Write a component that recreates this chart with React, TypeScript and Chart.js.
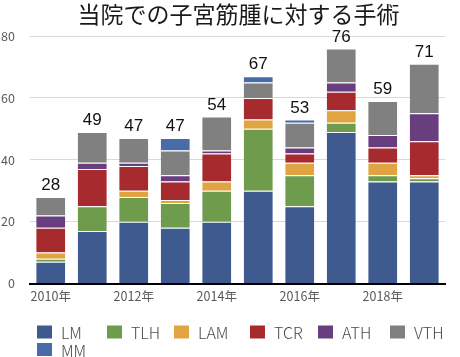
import React, { useEffect, useRef } from "react";
import { Chart, registerables } from "chart.js";

Chart.register(...registerables);

const TITLE = "当院での子宮筋腫に対する手術";
const YEARS = ["2010年", "2011年", "2012年", "2013年", "2014年", "2015年", "2016年", "2017年", "2018年", "2019年"];

const LM = [7, 17, 20, 18, 20, 30, 25, 49, 33, 33];
const TLH = [1, 8, 8, 8, 10, 20, 10, 3, 2, 1];
const LAM = [2, 0, 2, 1, 3, 3, 4, 4, 4, 1];
const TCR = [8, 12, 8, 6, 9, 7, 3, 6, 5, 11];
const ATH = [4, 2, 1, 2, 1, 0, 2, 3, 4, 9];
const VTH = [6, 10, 8, 8, 11, 5, 8, 11, 11, 16];
const MM = [0, 0, 0, 4, 0, 2, 1, 0, 0, 0];

const Y_TICKS = [0, 20, 40, 60, 80];

const SERIES = [
  { label: "LM", data: LM, color: "#3e5a8e" },
  { label: "TLH", data: TLH, color: "#6f9b4d" },
  { label: "LAM", data: LAM, color: "#e0a442" },
  { label: "TCR", data: TCR, color: "#a62a2e" },
  { label: "ATH", data: ATH, color: "#683e7e" },
  { label: "VTH", data: VTH, color: "#808080" },
  { label: "MM", data: MM, color: "#4a6baa" },
];

const TICK_FONT = '"Noto Sans CJK JP", "Noto Sans", sans-serif';

const overlayPlugin = {
  id: "overlay",
  afterDatasetsDraw(chart: any) {
    const ctx = chart.ctx;
    const xs = chart.scales.x;
    const ys = chart.scales.y;
    ctx.save();
    ctx.font = '17px "Liberation Sans", Arial, sans-serif';
    ctx.fillStyle = "#111111";
    ctx.textAlign = "center";
    ctx.textBaseline = "bottom";
    YEARS.forEach((_, i) => {
      let total = 0;
      chart.data.datasets.forEach((ds: any) => {
        total += ds.data[i] || 0;
      });
      const x = xs.getPixelForValue(i);
      const y = ys.getPixelForValue(total);
      ctx.fillText(String(total), x, y - 3);
    });
    ctx.restore();
  },
  afterDraw(chart: any) {
    const ctx = chart.ctx;
    ctx.save();
    // title
    ctx.font = '23px "Noto Sans CJK JP", sans-serif';
    ctx.fillStyle = "#1a1a1a";
    ctx.textAlign = "center";
    ctx.textBaseline = "middle";
    ctx.fillText(TITLE, 238.5, 14);
    // legend
    ctx.font = '300 16px "Noto Sans CJK JP", sans-serif';
    ctx.textAlign = "left";
    ctx.textBaseline = "middle";
    const cols = [37, 107, 174, 250, 318, 390];
    chart.data.datasets.forEach((ds: any, i: number) => {
      const row = Math.floor(i / 6);
      const col = i % 6;
      const bx = cols[col];
      const cy = 332 + row * 17.5;
      ctx.fillStyle = ds.backgroundColor;
      ctx.fillRect(bx, cy - 6.5, 15, 13);
      ctx.fillStyle = "#4a4a4a";
      ctx.fillText(ds.label, bx + 24, cy + 1);
    });
    ctx.restore();
  },
};

export default function App() {
  const ref = useRef<HTMLCanvasElement | null>(null);
  useEffect(() => {
    if (!ref.current) return;
    const chart = new Chart(ref.current, {
      type: "bar",
      data: {
        labels: YEARS,
        datasets: SERIES.map((s) => ({
          label: s.label,
          data: s.data,
          backgroundColor: s.color,
          borderColor: "rgba(255,255,255,0.95)",
          borderWidth: { top: 1, left: 0, right: 0, bottom: 0 },
          borderSkipped: "bottom",
          barPercentage: 0.7,
          categoryPercentage: 1,
        })),
      },
      options: {
        animation: false,
        responsive: true,
        maintainAspectRatio: false,
        layout: { padding: { top: 36, left: 0, right: 15, bottom: 53.5 } },
        plugins: {
          legend: { display: false },
          title: { display: false },
          tooltip: { enabled: false },
        },
        scales: {
          x: {
            stacked: true,
            afterFit: (s: any) => {
              s.height = 20;
            },
            grid: { display: false, drawTicks: false },
            border: { display: true, color: "#000000", width: 2 },
            ticks: {
              autoSkip: false,
              maxRotation: 0,
              padding: 5,
              color: "#595959",
              font: { family: TICK_FONT, size: 12.5 },
              callback: (_v: any, i: number) => (i % 2 === 0 ? YEARS[i] : ""),
            },
          },
          y: {
            stacked: true,
            min: Y_TICKS[0],
            max: Y_TICKS[Y_TICKS.length - 1],
            afterFit: (s: any) => {
              s.width = 30;
            },
            afterBuildTicks: (s: any) => {
              s.ticks = Y_TICKS.map((v) => ({ value: v }));
            },
            grid: { color: "#d9d9d9", lineWidth: 1, drawTicks: false },
            border: { display: false },
            ticks: {
              padding: 15,
              color: "#595959",
              font: { family: TICK_FONT, size: 12.5 },
            },
          },
        },
      },
      plugins: [overlayPlugin],
    });
    return () => chart.destroy();
  }, []);
  return (
    <div style={{ position: "fixed", left: 0, top: 0, width: 460, height: 357, background: "#ffffff" }}>
      <canvas ref={ref} />
    </div>
  );
}
